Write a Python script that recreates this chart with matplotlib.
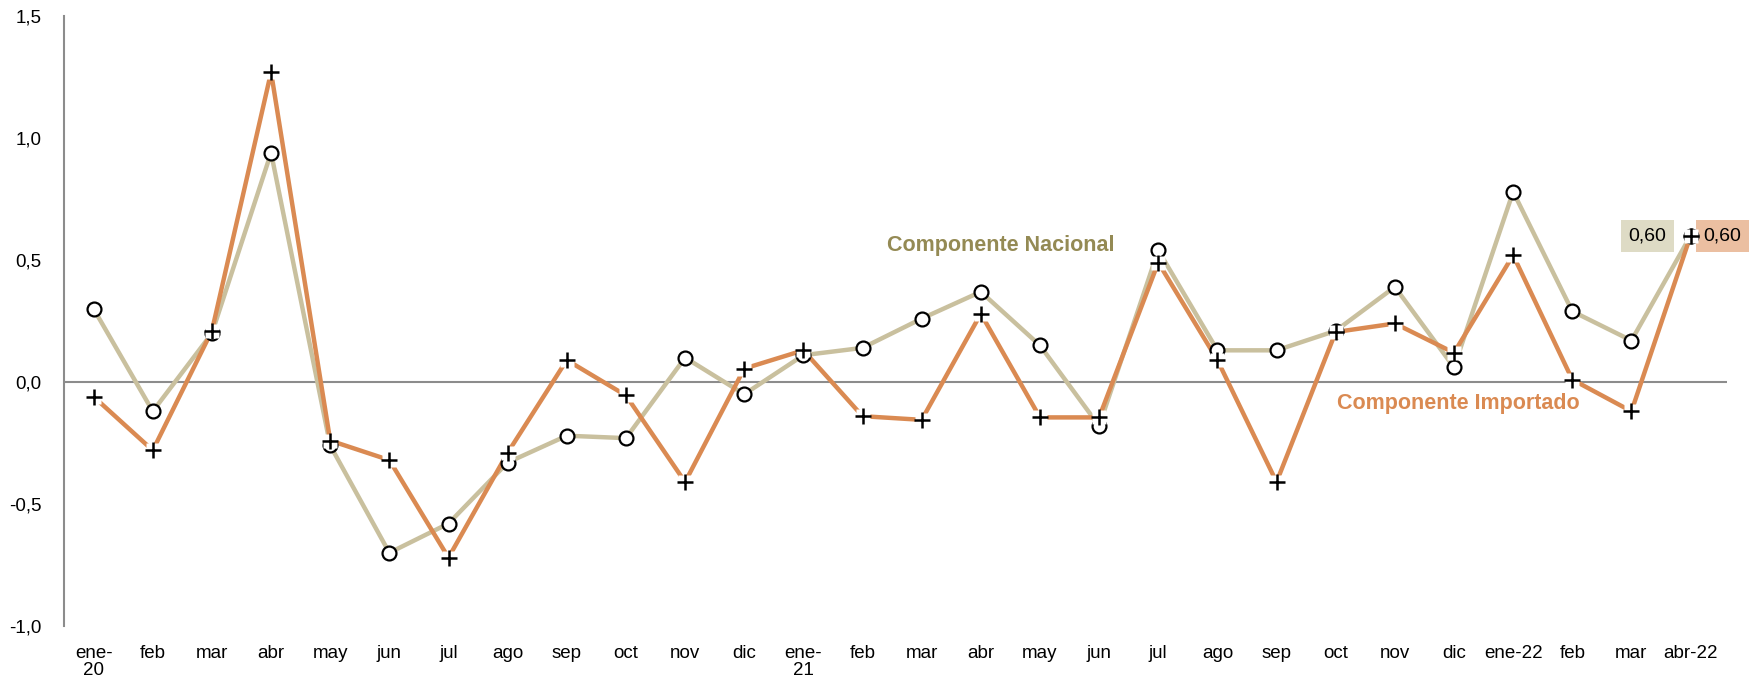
import matplotlib
matplotlib.use("Agg")
import matplotlib.pyplot as plt
from matplotlib import font_manager

months = ["ene-\n20", "feb", "mar", "abr", "may", "jun", "jul", "ago", "sep", "oct",
          "nov", "dic", "ene-\n21", "feb", "mar", "abr", "may", "jun", "jul", "ago",
          "sep", "oct", "nov", "dic", "ene-22", "feb", "mar", "abr-22"]

nacional = [0.30, -0.12, 0.20, 0.94, -0.26, -0.70, -0.58, -0.33, -0.22, -0.23,
            0.10, -0.05, 0.11, 0.14, 0.26, 0.37, 0.15, -0.18, 0.54, 0.13,
            0.13, 0.21, 0.39, 0.06, 0.78, 0.29, 0.17, 0.60]

importado = [-0.06, -0.28, 0.21, 1.27, -0.24, -0.32, -0.72, -0.29, 0.09, -0.055,
             -0.41, 0.055, 0.13, -0.14, -0.155, 0.28, -0.145, -0.145, 0.49, 0.09,
             -0.41, 0.205, 0.24, 0.12, 0.52, 0.01, -0.12, 0.60]

yticks = [-1.0, -0.5, 0.0, 0.5, 1.0, 1.5]

c_nac = "#C9C09E"
c_imp = "#DA8A52"

names = {f.name for f in font_manager.fontManager.ttflist}
narrow = "Liberation Sans Narrow" if "Liberation Sans Narrow" in names else "Liberation Sans"
plt.rcParams["font.family"] = [narrow, "DejaVu Sans"]

fig = plt.figure(figsize=(17.5, 6.86), dpi=100)
ax = fig.add_axes([0.0366, 0.0875, 0.9504, 0.889])

x = list(range(len(months)))
ax.axhline(0, color="#8c8c8c", lw=1.5, zorder=1)
ax.plot(x, nacional, color=c_nac, lw=3.2, zorder=2)
ax.plot(x, importado, color=c_imp, lw=3.2, zorder=3)
ax.plot(x, nacional, ls="none", marker="o", ms=10, mfc="white", mec="black", mew=1.6, zorder=4)
# white patch behind the crosses, as in the original
ax.plot(x, importado, ls="none", marker="s", ms=10, mfc="white", mec="none", zorder=5)
ax.plot(x, importado, ls="none", marker="+", ms=11, mec="black", mew=1.8, zorder=6)

ax.set_xlim(-0.5, 27.62)
ax.set_ylim(-1.0, 1.5)
ax.set_yticks(yticks)
ax.set_yticklabels([f"{v:.1f}".replace(".", ",") for v in yticks], fontsize=13.5)
ax.set_xticks(x)
ax.set_xticklabels(months, fontsize=13.5, va="top", linespacing=1.0)
ax.tick_params(axis="both", length=0)
ax.tick_params(axis="x", pad=14)
ax.tick_params(axis="y", pad=16)

for s in ["top", "right", "bottom"]:
    ax.spines[s].set_visible(False)
ax.spines["left"].set_color("#8c8c8c")
ax.spines["left"].set_linewidth(1.5)

ax.text(15.34, 0.56, "Componente Nacional", color="#948A54", fontsize=15.5,
        fontweight="bold", family=["Liberation Sans", "DejaVu Sans"], ha="center", va="center")
ax.text(23.08, -0.09, "Componente Importado", color="#DA8A52", fontsize=15.5,
        fontweight="bold", family=["Liberation Sans", "DejaVu Sans"], ha="center", va="center")

last = len(months) - 1
ax.annotate(f"{nacional[-1]:.2f}".replace(".", ","), (last, nacional[-1]),
            xytext=(-31, 0), textcoords="offset points", ha="center", va="center",
            fontsize=14, bbox=dict(boxstyle="square,pad=0.38", fc="#DEDBC5", ec="none"))
ax.annotate(f"{importado[-1]:.2f}".replace(".", ","), (last, importado[-1]),
            xytext=(23, 0), textcoords="offset points", ha="center", va="center",
            fontsize=14, bbox=dict(boxstyle="square,pad=0.38", fc="#EBBFA1", ec="none"))

fig.savefig("out.png", dpi=100)
